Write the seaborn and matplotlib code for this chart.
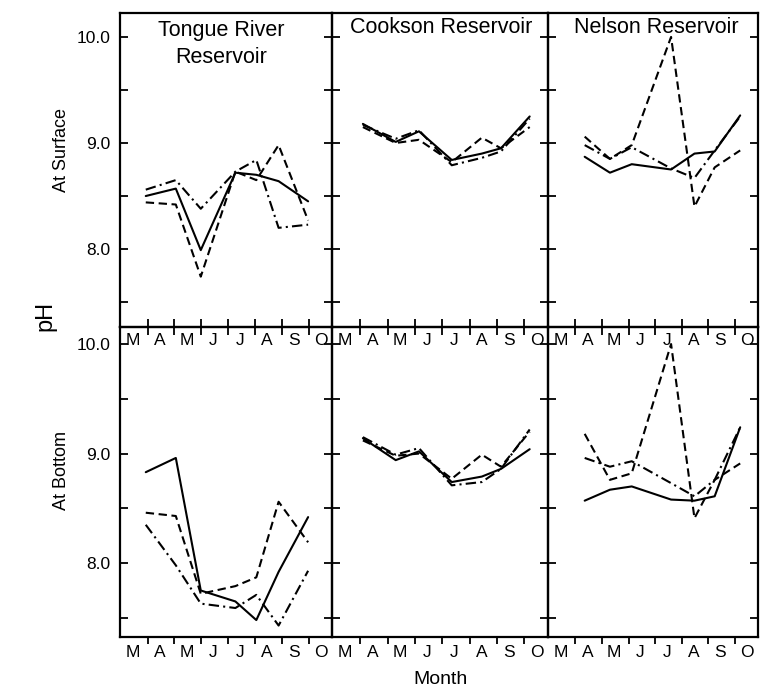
import matplotlib
matplotlib.use('Agg')
import matplotlib.pyplot as plt
import seaborn as sns
import pandas as pd

# month labels (Mar - Oct), sampling positions in month units
months = ["M", "A", "M", "J", "J", "A", "S", "O"]

tongue_x = [0.93, 2.05, 2.98, 4.27, 5.05, 5.88, 6.98]
cookson_x = [1.1, 2.3, 3.15, 4.35, 5.45, 6.15, 7.2]
nelson_x = [1.35, 2.3, 3.12, 4.6, 5.48, 6.24, 7.2]

# pH at surface
tongue_surf_solid = [8.50, 8.57, 7.99, 8.72, 8.70, 8.64, 8.45]
tongue_surf_dashed = [8.44, 8.42, 7.74, 8.73, 8.65, 8.98, 8.27]
tongue_surf_dashdot = [8.56, 8.65, 8.38, 8.73, 8.84, 8.20, 8.23]

cookson_surf_solid = [9.18, 9.01, 9.11, 8.84, 8.90, 8.95, 9.25]
cookson_surf_dashed = [9.15, 9.00, 9.03, 8.82, 9.05, 8.95, 9.15]
cookson_surf_dashdot = [9.17, 9.04, 9.12, 8.79, 8.86, 8.92, 9.23]

nelson_surf_solid = [8.87, 8.72, 8.80, 8.75, 8.90, 8.92, 9.26]
nelson_surf_dashed = [9.06, 8.85, 8.98, 10.0, 8.40, 8.77, 8.93]
nelson_surf_dashdot = [8.98, 8.85, 8.96, 8.76, 8.67, 8.93, 9.25]

# pH at bottom
tongue_bot_solid = [8.83, 8.96, 7.75, 7.65, 7.48, 7.92, 8.42]
tongue_bot_dashed = [8.46, 8.43, 7.72, 7.79, 7.87, 8.56, 8.19]
tongue_bot_dashdot = [8.35, 7.98, 7.63, 7.59, 7.71, 7.43, 7.93]

cookson_bot_solid = [9.14, 8.94, 9.02, 8.74, 8.79, 8.86, 9.04]
cookson_bot_dashed = [9.12, 8.98, 9.00, 8.77, 8.99, 8.88, 9.20]
cookson_bot_dashdot = [9.15, 8.99, 9.05, 8.71, 8.74, 8.86, 9.22]

nelson_bot_solid = [8.57, 8.67, 8.70, 8.58, 8.57, 8.61, 9.24]
nelson_bot_dashed = [9.18, 8.76, 8.82, 10.0, 8.41, 8.76, 8.91]
nelson_bot_dashdot = [8.96, 8.88, 8.93, 8.73, 8.61, 8.76, 9.24]

titles = ["Tongue River\nReservoir", "Cookson Reservoir", "Nelson Reservoir"]
row_labels = ["At Surface", "At Bottom"]

panels = [
    [(tongue_x, tongue_surf_solid, tongue_surf_dashed, tongue_surf_dashdot),
     (cookson_x, cookson_surf_solid, cookson_surf_dashed, cookson_surf_dashdot),
     (nelson_x, nelson_surf_solid, nelson_surf_dashed, nelson_surf_dashdot)],
    [(tongue_x, tongue_bot_solid, tongue_bot_dashed, tongue_bot_dashdot),
     (cookson_x, cookson_bot_solid, cookson_bot_dashed, cookson_bot_dashdot),
     (nelson_x, nelson_bot_solid, nelson_bot_dashed, nelson_bot_dashdot)],
]

sns.set_style("ticks", {"text.color": "black", "xtick.color": "black",
                        "ytick.color": "black", "axes.labelcolor": "black",
                        "axes.edgecolor": "black"})
plt.rcParams['font.family'] = ['Liberation Sans', 'DejaVu Sans']

W, H = 762, 691
fig = plt.figure(figsize=(W / 100, H / 100), dpi=100)

cols = [(120, 332), (332, 548), (548, 758)]
rows = [(12.5, 326.5, 7.27, 10.23), (326.5, 636.5, 7.33, 10.16)]
dash_map = {"solid": "", "dashed": (4, 2.2), "dashdot": (5, 2, 1, 2)}
label_pos = [k + 0.45 for k in range(8)]
title_x = [0.478, 0.505, 0.518]

for r, (top, bot, ylo, yhi) in enumerate(rows):
    for c, (left, right) in enumerate(cols):
        ax = fig.add_axes([left / W, 1 - bot / H, (right - left) / W, (bot - top) / H])
        ax.patch.set_visible(False)
        xs, s1, s2, s3 = panels[r][c]
        df = pd.DataFrame({
            "x": xs * 3,
            "pH": s1 + s2 + s3,
            "series": ["solid"] * 7 + ["dashed"] * 7 + ["dashdot"] * 7,
        })
        sns.lineplot(data=df, x="x", y="pH", style="series", dashes=dash_map,
                     style_order=["solid", "dashed", "dashdot"], color="black",
                     lw=1.5, estimator=None, sort=False, legend=False, ax=ax)
        ax.set_xlim(-0.03, 7.87)
        ax.set_ylim(ylo, yhi)
        ax.set_xlabel("")
        ax.set_ylabel("")
        for sp in ax.spines.values():
            sp.set_linewidth(1.6)
            sp.set_color("black")

        ax.set_yticks([7.5, 8.0, 8.5, 9.0, 9.5, 10.0])
        if c == 0:
            ax.set_yticklabels(["", "8.0", "", "9.0", "", "10.0"])
        else:
            ax.set_yticklabels([])
        ax.tick_params(axis="y", direction="in", length=6, width=1.3,
                       left=True, right=True, labelsize=12.5, pad=7)

        ax.set_xticks(range(1, 8))
        ax.set_xticklabels([])
        ax.set_xticks(label_pos, months, minor=True)
        if r == 0:
            ax.tick_params(axis="x", which="major", direction="inout", length=12, width=1.3)
            ax.tick_params(axis="x", which="minor", length=0, labelsize=12.5, pad=5)
        else:
            ax.tick_params(axis="x", which="major", direction="out", length=5, width=1.3)
            ax.tick_params(axis="x", which="minor", length=0, labelsize=12.5, pad=6)

        if r == 0:
            ty = 0.9 if c == 0 else 0.951
            ax.text(title_x[c], ty, titles[c], transform=ax.transAxes, ha="center",
                    va="center", fontsize=15.5, linespacing=1.4)

fig.text(62 / W, 1 - 150 / H, row_labels[0], rotation=90, ha="center", va="center", fontsize=13)
fig.text(62 / W, 1 - 470 / H, row_labels[1], rotation=90, ha="center", va="center", fontsize=13)
fig.text(45 / W, 1 - 316 / H, "pH", rotation=90, ha="center", va="center", fontsize=17)
fig.text(440 / W, 1 - 679 / H, "Month", ha="center", va="center", fontsize=14)

plt.savefig("out.png", dpi=100)
plt.close()
